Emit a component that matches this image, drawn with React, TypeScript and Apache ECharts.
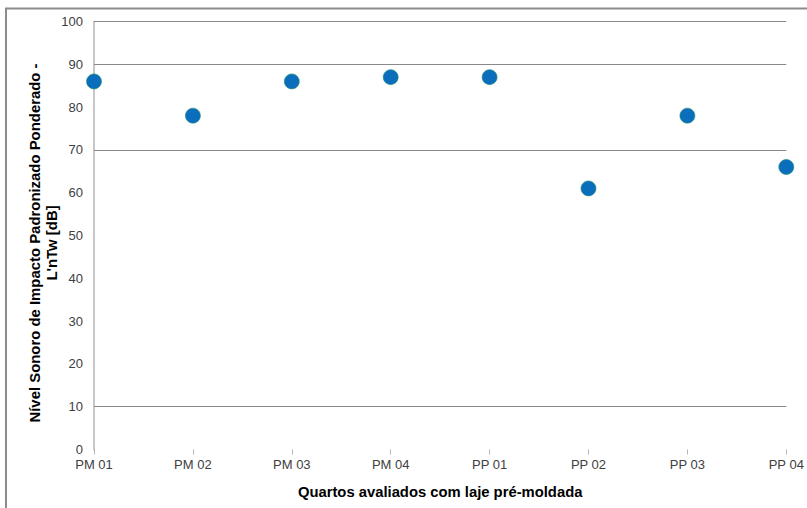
import React, { useEffect, useRef } from "react";
import * as echarts from "echarts";

const categories = ["PM 01", "PM 02", "PM 03", "PM 04", "PP 01", "PP 02", "PP 03", "PP 04"];
const values = [86, 78, 86, 87, 87, 61, 78, 66];
const gridValues = [10, 70, 90, 100];
const yTitle = "Nível Sonoro de Impacto Padronizado Ponderado -\nL'nTw [dB]";
const xTitle = "Quartos avaliados com laje pré-moldada";

export default function App() {
  const ref = useRef<HTMLDivElement>(null);
  useEffect(() => {
    if (!ref.current) return;
    const chart = echarts.init(ref.current, null, { renderer: "svg" });
    const font = "'Liberation Sans', Arial, sans-serif";
    chart.setOption({
      animation: false,
      backgroundColor: "#ffffff",
      textStyle: { fontFamily: font },
      graphic: [
        {
          type: "rect",
          shape: { x: 6, y: 8.5, width: 900, height: 600 },
          style: { fill: "none", stroke: "#8c8c8c", lineWidth: 2 },
          silent: true,
        },
        {
          type: "text",
          x: 43,
          y: 243,
          rotation: Math.PI / 2,
          silent: true,
          style: {
            text: yTitle,
            fill: "#000",
            fontSize: 14.9,
            fontWeight: "bold",
            fontFamily: font,
            lineHeight: 17,
            align: "center",
            verticalAlign: "middle",
          },
        },
      ],
      grid: { left: 94, right: 20, top: 21.5, bottom: 58.6, containLabel: false },
      xAxis: {
        type: "category",
        data: categories,
        boundaryGap: false,
        axisLine: { show: false },
        axisTick: { show: true, length: 5, lineStyle: { color: "#b8b8b8", width: 1 } },
        axisLabel: { color: "#404040", fontSize: 13, margin: 9, fontFamily: font },
        splitLine: { show: false },
        name: xTitle,
        nameLocation: "middle",
        nameGap: 35,
        nameTextStyle: { color: "#000", fontSize: 14.8, fontWeight: "bold", fontFamily: font },
      },
      yAxis: {
        type: "value",
        min: 0,
        max: 100,
        interval: 10,
        axisLine: { show: true, lineStyle: { color: "#c8c8c8", width: 2 } },
        axisTick: { show: false },
        axisLabel: { color: "#404040", fontSize: 13, margin: 11, fontFamily: font },
        splitLine: { show: false },
      },
      series: [
        {
          type: "scatter",
          data: values,
          symbol: "circle",
          symbolSize: 15,
          itemStyle: { color: "#0A6EBD", opacity: 1, borderColor: "#1f8f74", borderWidth: 0.6 },
          markLine: {
            silent: true,
            symbol: ["none", "none"],
            label: { show: false },
            lineStyle: { color: "#8a8a8a", width: 1, type: "solid" },
            data: gridValues.map((v) => ({ yAxis: v })),
            z: 1,
          },
          z: 5,
        },
      ],
    });
    return () => chart.dispose();
  }, []);
  return <div ref={ref} style={{ width: 807, height: 508, position: "absolute", left: 0, top: 0 }} />;
}
